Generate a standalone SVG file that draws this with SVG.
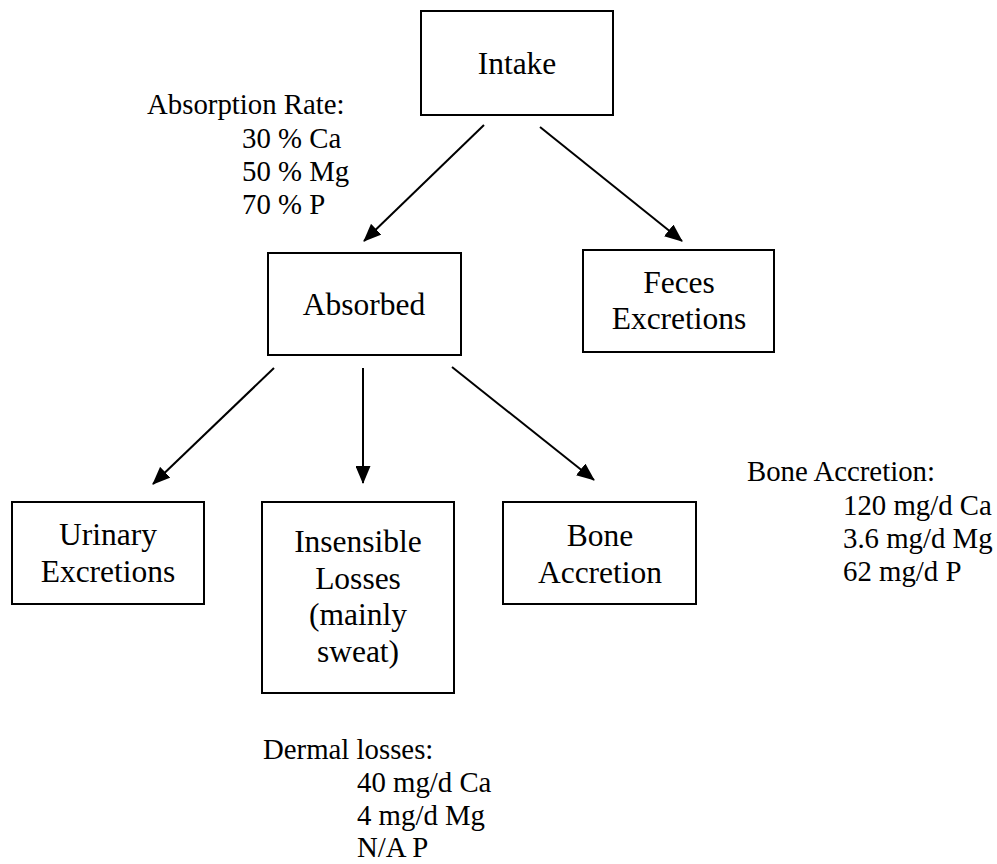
<svg xmlns="http://www.w3.org/2000/svg" width="997" height="864" viewBox="0 0 997 864">
<style>
  .box { fill: #fff; stroke: #000; stroke-width: 2; }
  .lbl { font-family: "Liberation Serif", "Times New Roman", serif; font-size: 31.5px; fill: #000; text-anchor: middle; }
  .note { font-family: "Liberation Serif", "Times New Roman", serif; font-size: 28.8px; fill: #000; }
  .conn { stroke: #000; stroke-width: 2; fill: none; marker-end: url(#arr); }
</style>
<defs>
  <marker id="arr" viewBox="0 0 18 15" refX="17" refY="7.5" markerWidth="18" markerHeight="15" markerUnits="userSpaceOnUse" orient="auto">
    <path d="M0,0 L18,7.5 L0,15 Z" fill="#000"/>
  </marker>
</defs>
<rect width="997" height="864" fill="#fff"/>

<g id="connectors">
  <line class="conn" x1="484" y1="125" x2="364" y2="241"/>
  <line class="conn" x1="540" y1="127" x2="682" y2="241"/>
  <line class="conn" x1="274" y1="368" x2="153" y2="484"/>
  <line class="conn" x1="363" y1="368" x2="363" y2="483"/>
  <line class="conn" x1="452" y1="367" x2="594" y2="480"/>
</g>

<g id="intake">
  <rect class="box" x="421" y="11" width="192" height="104"/>
  <text class="lbl" x="517" y="74">Intake</text>
</g>
<g id="absorbed">
  <rect class="box" x="268" y="253" width="193" height="102"/>
  <text class="lbl" x="364" y="315">Absorbed</text>
</g>
<g id="feces">
  <rect class="box" x="583" y="250" width="191" height="102"/>
  <text class="lbl" x="679" y="293">Feces</text>
  <text class="lbl" x="679" y="329">Excretions</text>
</g>
<g id="urinary">
  <rect class="box" x="12" y="502" width="192" height="102"/>
  <text class="lbl" x="108" y="545">Urinary</text>
  <text class="lbl" x="108" y="582">Excretions</text>
</g>
<g id="insensible">
  <rect class="box" x="262" y="502" width="192" height="191"/>
  <text class="lbl" x="358" y="552">Insensible</text>
  <text class="lbl" x="358" y="589">Losses</text>
  <text class="lbl" x="358" y="625">(mainly</text>
  <text class="lbl" x="358" y="662">sweat)</text>
</g>
<g id="bone">
  <rect class="box" x="503" y="502" width="193" height="102"/>
  <text class="lbl" x="600" y="546">Bone</text>
  <text class="lbl" x="600" y="583">Accretion</text>
</g>

<g id="absorption-note">
  <text class="note" x="147" y="114">Absorption Rate:</text>
  <text class="note" x="242" y="148">30 % Ca</text>
  <text class="note" x="242" y="181">50 % Mg</text>
  <text class="note" x="242" y="214">70 % P</text>
</g>
<g id="bone-note">
  <text class="note" x="747" y="481">Bone Accretion:</text>
  <text class="note" x="843" y="515">120 mg/d Ca</text>
  <text class="note" x="843" y="548">3.6 mg/d Mg</text>
  <text class="note" x="843" y="581">62 mg/d P</text>
</g>
<g id="dermal-note">
  <text class="note" x="263" y="759">Dermal losses:</text>
  <text class="note" x="357" y="792">40 mg/d Ca</text>
  <text class="note" x="357" y="825">4 mg/d Mg</text>
  <text class="note" x="357" y="857">N/A P</text>
</g>
</svg>
